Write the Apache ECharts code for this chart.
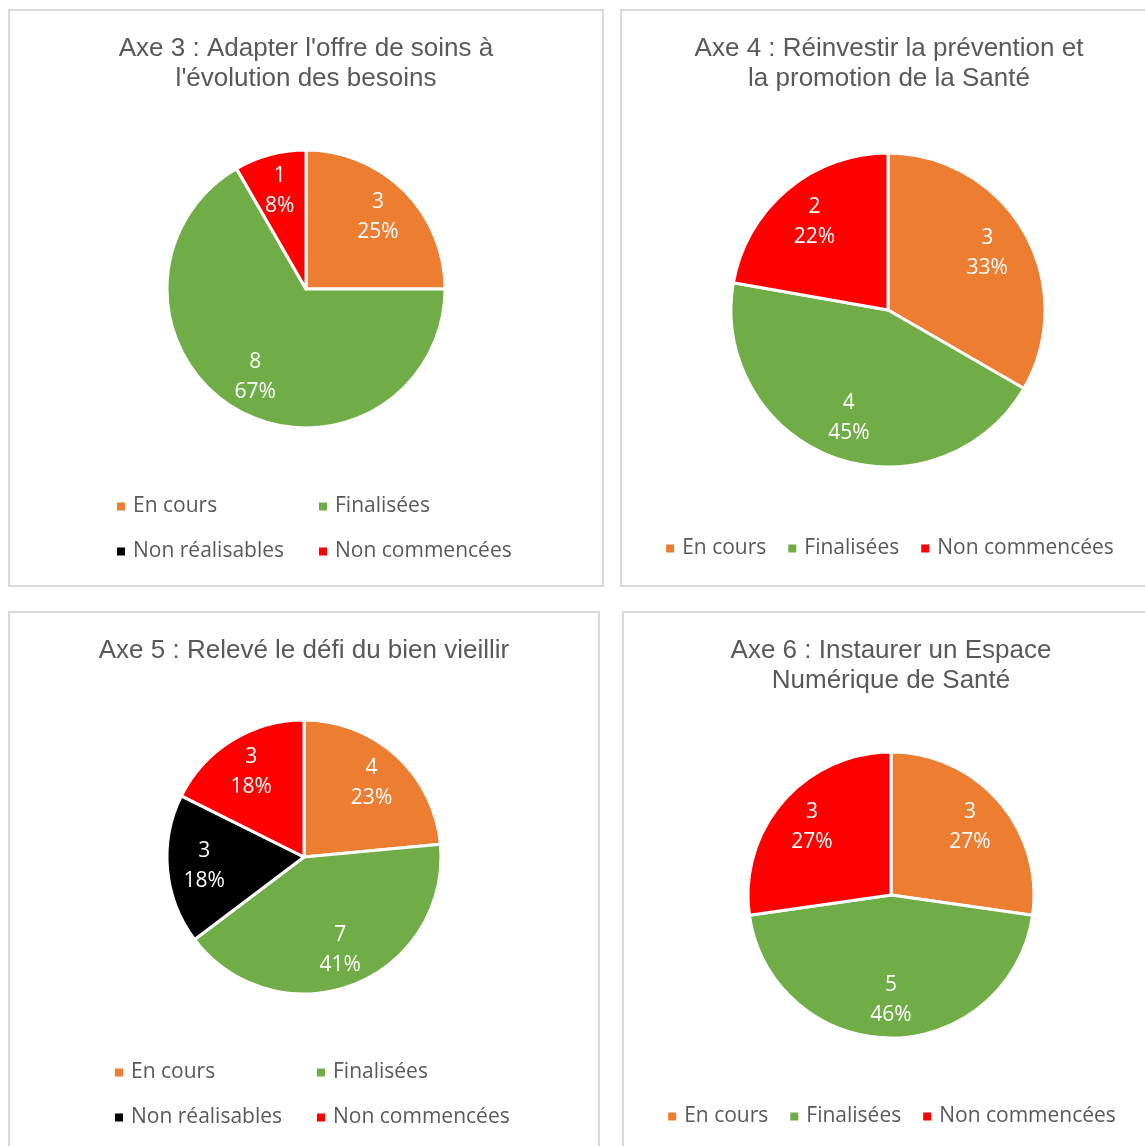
<!DOCTYPE html>
<html>
<head>
<meta charset="utf-8">
<script src="https://cdn.jsdelivr.net/npm/echarts@6/dist/echarts.min.js"></script>
<style>
    html, body { margin: 0; padding: 0; background: #fff; width: 1145px; height: 1146px; overflow: hidden; }
    .panel { position: absolute; box-sizing: border-box; border: 2px solid #d9d9d9; background: #fff; }
</style>
</head>
<body>
<div class="panel" id="p1" style="left:8px;top:9px;width:596px;height:578px;"></div>
<div class="panel" id="p2" style="left:620px;top:9px;width:538px;height:578px;"></div>
<div class="panel" id="p3" style="left:8px;top:611px;width:592px;height:560px;"></div>
<div class="panel" id="p4" style="left:622px;top:611px;width:538px;height:560px;"></div>
<script>
(function () {

    var allCategories = ['En cours', 'Finalisées', 'Non réalisables', 'Non commencées'];
    var colors = {
        'En cours': '#ED7D31',
        'Finalisées': '#70AD47',
        'Non réalisables': '#000000',
        'Non commencées': '#FF0000'
    };

    var titles = [
        "Axe 3 : Adapter l'offre de soins à\nl'évolution des besoins",
        'Axe 4 : Réinvestir la prévention et\nla promotion de la Santé',
        'Axe 5 : Relevé le défi du bien vieillir',
        'Axe 6 : Instaurer un Espace\nNumérique de Santé'
    ];

    // values per axe, in the order of allCategories (null = not in that chart)
    var axe3 = [3, 8, 0, 1];
    var axe4 = [3, 4, null, 2];
    var axe5 = [4, 7, 3, 3];
    var axe6 = [3, 5, null, 3];

    var textColor = '#595959';
    var font = 'Open Sans';

    function buildData(values) {
        var out = [];
        for (var i = 0; i < allCategories.length; i++) {
            if (values[i] === null) continue;
            out.push({
                name: allCategories[i],
                value: values[i],
                itemStyle: { color: colors[allCategories[i]] }
            });
        }
        return out;
    }

    function makeOption(cfg) {
        var data = buildData(cfg.values);
        var legend = {
            data: data.map(function (d) { return d.name; }),
            icon: 'rect',
            itemWidth: 10,
            itemHeight: 10,
            padding: 0,
            selectedMode: false,
            textStyle: {
                color: textColor,
                fontFamily: font,
                fontSize: 21,
                padding: [0, 0, 0, 2]
            }
        };
        if (cfg.grid) {
            legend.left = cfg.legendLeft;
            legend.top = cfg.legendTop;
            legend.width = 400;
            legend.itemGap = 10;
            legend.textStyle.width = 174;
            legend.textStyle.lineHeight = 35;
        } else {
            legend.left = 'center';
            legend.top = cfg.legendTop;
            legend.itemGap = 20;
        }
        return {
            animation: false,
            title: {
                text: cfg.title,
                left: 'center',
                top: cfg.titleTop,
                textStyle: {
                    color: textColor,
                    fontFamily: 'Liberation Sans',
                    fontWeight: 'normal',
                    fontSize: 26,
                    lineHeight: 30
                }
            },
            legend: legend,
            series: [
                {
                    type: 'pie',
                    center: cfg.center,
                    radius: [0, cfg.r],
                    startAngle: 90,
                    clockwise: true,
                    silent: true,
                    label: { show: false },
                    labelLine: { show: false },
                    itemStyle: { borderColor: '#ffffff', borderWidth: 3 },
                    data: data
                },
                {
                    // transparent ring only used to place the data labels like Excel does
                    type: 'pie',
                    center: cfg.center,
                    radius: [cfg.r * 0.42, cfg.r],
                    startAngle: 90,
                    clockwise: true,
                    silent: true,
                    percentPrecision: 0,
                    itemStyle: { color: 'rgba(0,0,0,0)', borderWidth: 0 },
                    labelLine: { show: false },
                    label: {
                        show: true,
                        position: 'inside',
                        color: '#ffffff',
                        fontFamily: font,
                        fontSize: 21,
                        lineHeight: 30,
                        formatter: function (p) {
                            if (!p.value) return '';
                            return p.value + '\n' + p.percent + '%';
                        }
                    },
                    data: data.map(function (d) { return { name: d.name, value: d.value }; })
                }
            ]
        };
    }

    var configs = [
        { id: 'p1', title: titles[0], values: axe3, titleTop: 18, center: [296, 278], r: 139, grid: true, legendLeft: 105, legendTop: 478 },
        { id: 'p2', title: titles[1], values: axe4, titleTop: 18, center: [266, 299], r: 157, grid: false, legendTop: 527 },
        { id: 'p3', title: titles[2], values: axe5, titleTop: 18, center: [294, 244], r: 137, grid: true, legendLeft: 103, legendTop: 442 },
        { id: 'p4', title: titles[3], values: axe6, titleTop: 18, center: [267, 282], r: 143, grid: false, legendTop: 493 }
    ];

    configs.forEach(function (cfg) {
        var chart = echarts.init(document.getElementById(cfg.id));
        chart.setOption(makeOption(cfg));
    });
})();
</script>
</body>
</html>
